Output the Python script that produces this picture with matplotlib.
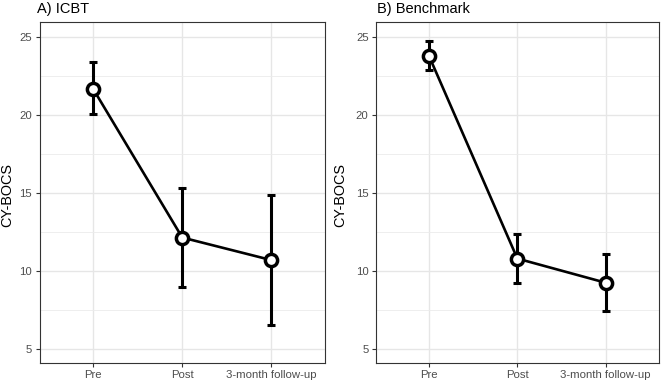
import matplotlib
matplotlib.use("Agg")
import matplotlib.pyplot as plt
from matplotlib.ticker import MultipleLocator

plt.rcParams['font.family'] = ['Liberation Sans', 'DejaVu Sans']

timepoints = ["Pre", "Post", "3-month follow-up"]
icbt_mean = [21.7, 12.15, 10.7]
icbt_lower = [20.05, 9.0, 6.55]
icbt_upper = [23.4, 15.3, 14.85]
bench_mean = [23.8, 10.8, 9.25]
bench_lower = [22.9, 9.25, 7.45]
bench_upper = [24.75, 12.4, 11.1]
titles = ["A) ICBT", "B) Benchmark"]

W, H = 664, 384
fig = plt.figure(figsize=(W / 100, H / 100), dpi=100)

panels = [
    (icbt_mean, icbt_lower, icbt_upper, 39.5, 325.0, 37.0, 7.7),
    (bench_mean, bench_lower, bench_upper, 376.0, 658.7, 377.0, 340.0),
]
top_px, bot_px = 22.3, 363.0

for i, (m, lo, hi, lpx, rpx, tx, ylx) in enumerate(panels):
    ax = fig.add_axes([lpx / W, 1 - bot_px / H, (rpx - lpx) / W, (bot_px - top_px) / H])
    x = list(range(1, len(timepoints) + 1))
    yerr = [[mi - l for mi, l in zip(m, lo)], [h - mi for mi, h in zip(m, hi)]]
    ax.errorbar(x, m, yerr=yerr, fmt='none', ecolor='black', elinewidth=2.2,
                capsize=3.2, capthick=2.2, zorder=3)
    ax.plot(x, m, color='black', lw=1.9, zorder=4)
    ax.plot(x, m, 'o', ms=8.8, mfc='white', mec='black', mew=2.5, zorder=5)
    ax.set_xlim(0.4, 3.6)
    ax.set_ylim(4.1, 25.96)
    ax.set_xticks(x)
    ax.set_xticklabels(timepoints)
    ax.yaxis.set_major_locator(MultipleLocator(5))
    ax.yaxis.set_minor_locator(MultipleLocator(2.5))
    ax.grid(True, which='major', color='#E6E6E6', lw=1.0, zorder=0)
    ax.grid(True, which='minor', axis='y', color='#EBEBEB', lw=0.6, zorder=0)
    ax.set_axisbelow(True)
    for s in ax.spines.values():
        s.set_color('#333333')
        s.set_linewidth(0.8)
    ax.tick_params(axis='both', which='major', colors='#333333', length=3.2, width=0.8,
                   labelsize=8.2, labelcolor='#4D4D4D', pad=2.2)
    ax.tick_params(axis='both', which='minor', length=0)
    fig.text(ylx / W, 1 - 195 / H, "CY-BOCS", rotation=90, ha='center', va='center',
             fontsize=10.4, color='black')
    fig.text(tx / W, 1 - 12.8 / H, titles[i], ha='left', va='baseline', fontsize=10.5,
             color='black')

fig.savefig("out.png", dpi=100, facecolor='white')
